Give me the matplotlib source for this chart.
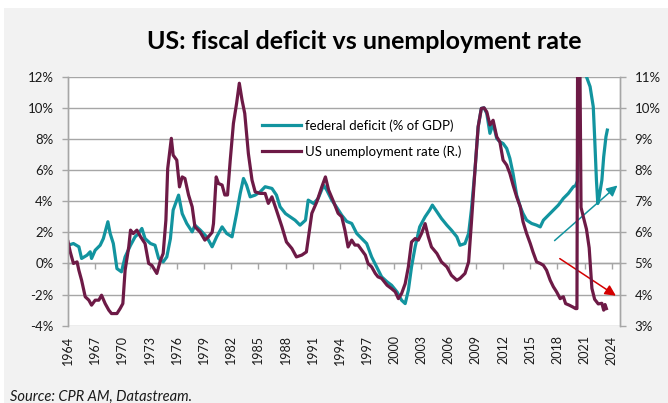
import matplotlib
matplotlib.use("Agg")
import matplotlib.pyplot as plt
from matplotlib.patches import Rectangle

plt.rcParams['font.family'] = ['Lato', 'DejaVu Sans']

# federal deficit, % of GDP (left axis)
deficit_years = [1964.0, 1964.6, 1965.2, 1965.5, 1966.1, 1966.45, 1966.6, 1967.0, 1967.55, 1967.9,
                 1968.4, 1968.65, 1969.0, 1969.4, 1969.9, 1970.3, 1970.9, 1971.4, 1971.8, 1972.15,
                 1972.5, 1973.1, 1973.6, 1974.0, 1974.5, 1974.9, 1975.3, 1975.6, 1976.2, 1976.6,
                 1977.1, 1977.7, 1978.0, 1978.6, 1979.3, 1979.9, 1980.4, 1981.0, 1981.5, 1982.1,
                 1982.6, 1983.0, 1983.36, 1983.7, 1984.1, 1984.65, 1985.2, 1985.75, 1986.5, 1987.0,
                 1987.4, 1988.0, 1988.5, 1989.05, 1989.6, 1990.2, 1990.5, 1991.1, 1991.6, 1992.2,
                 1992.55, 1993.1, 1993.65, 1994.2, 1994.75, 1995.3, 1995.85, 1996.4, 1996.95, 1997.5,
                 1998.05, 1998.6, 1999.2, 1999.7, 2000.3, 2000.8, 2001.2, 2001.55, 2001.9, 2002.3,
                 2002.8, 2003.4, 2003.9, 2004.2, 2004.7, 2005.2, 2005.8, 2006.3, 2006.9, 2007.25,
                 2007.8, 2008.2, 2008.5, 2008.9, 2009.25, 2009.6, 2009.9, 2010.2, 2010.55, 2010.9,
                 2011.3, 2011.65, 2012.0, 2012.4, 2012.75, 2013.1, 2013.5, 2013.9, 2014.2, 2014.6,
                 2015.15, 2015.7, 2016.1, 2016.45, 2017.0, 2017.55, 2018.1, 2018.65, 2019.2, 2019.75,
                 2020.0, 2020.2, 2020.35, 2020.8, 2021.0, 2021.2, 2021.6, 2021.95, 2022.1, 2022.3,
                 2022.45, 2022.6, 2022.9, 2023.1, 2023.35, 2023.5]
deficit = [1.17, 1.28, 1.07, 0.32, 0.53, 0.75, 0.32, 0.85, 1.17, 1.6,
           2.68, 1.93, 1.28, -0.33, -0.54, 0.42, 1.17, 1.71, 1.93, 2.25,
           1.6, 1.28, 1.17, 0.32, 0.1, 0.42, 1.6, 3.43, 4.39, 3.2,
           2.57, 2.03, 2.46, 2.14, 1.71, 1.07, 1.71, 2.35, 1.93, 1.71,
           3.2, 4.5, 5.46, 5.03, 4.28, 4.39, 4.6, 4.93, 4.82, 4.39,
           3.64, 3.2, 3.0, 2.78, 2.46, 2.78, 4.07, 3.85, 4.18, 5.03,
           4.71, 4.07, 3.6, 3.1, 2.7, 2.57, 1.93, 1.6, 1.28, 0.42,
           -0.22, -0.86, -1.18, -1.4, -1.83, -2.36, -2.58, -1.72, -0.22, 1.07,
           2.35, 3.0, 3.43, 3.75, 3.32, 2.89, 2.46, 2.14, 1.71, 1.17,
           1.28, 1.93, 3.43, 6.0, 8.78, 9.96, 10.0, 9.64, 8.36, 9.0,
           8.03, 7.82, 7.71, 7.39, 6.75, 5.78, 4.39, 3.64, 3.21, 2.78,
           2.57, 2.46, 2.35, 2.78, 3.1, 3.43, 3.75, 4.18, 4.5, 4.93,
           5.0, 5.3, 15.0, 16.0, 14.0, 12.0, 11.36, 10.07, 8.14, 5.35,
           3.85, 4.28, 5.35, 6.85, 8.14, 8.57]

# US unemployment rate, % (right axis)
unemp_years = [1964.0, 1964.25, 1964.6, 1965.0, 1965.2, 1965.5, 1965.9, 1966.3, 1966.6, 1967.0,
               1967.4, 1967.7, 1968.1, 1968.5, 1968.8, 1969.4, 1969.75, 1970.05, 1970.3, 1970.7,
               1970.9, 1971.2, 1971.6, 1972.0, 1972.5, 1972.9, 1973.25, 1973.8, 1974.2, 1974.5,
               1974.8, 1975.0, 1975.4, 1975.6, 1976.0, 1976.3, 1976.6, 1976.9, 1977.3, 1977.7,
               1978.0, 1978.6, 1979.1, 1979.5, 1979.9, 1980.05, 1980.35, 1980.6, 1981.0, 1981.3,
               1981.6, 1981.9, 1982.25, 1982.6, 1982.9, 1983.2, 1983.5, 1983.9, 1984.3, 1984.65,
               1985.2, 1985.75, 1986.1, 1986.5, 1987.0, 1987.6, 1988.1, 1988.7, 1989.2, 1989.8,
               1990.3, 1990.9, 1991.45, 1992.0, 1992.4, 1992.75, 1993.3, 1993.8, 1994.2, 1994.55,
               1994.9, 1995.3, 1995.65, 1996.0, 1996.4, 1996.8, 1997.1, 1997.5, 1997.9, 1998.2,
               1998.6, 1999.2, 1999.7, 2000.1, 2000.45, 2000.8, 2001.2, 2001.55, 2001.9, 2002.3,
               2002.65, 2003.0, 2003.4, 2003.75, 2004.1, 2004.7, 2005.2, 2005.8, 2006.3, 2006.9,
               2007.25, 2007.8, 2008.2, 2008.5, 2008.9, 2009.25, 2009.6, 2009.9, 2010.2, 2010.55,
               2010.9, 2011.3, 2011.65, 2012.0, 2012.4, 2012.75, 2013.1, 2013.5, 2013.9, 2014.2,
               2014.6, 2015.0, 2015.3, 2015.7, 2016.1, 2016.45, 2016.8, 2017.2, 2017.55, 2017.9,
               2018.3, 2018.65, 2018.9, 2019.3, 2019.7, 2020.0, 2020.15, 2020.25, 2020.45, 2020.6,
               2020.85, 2021.2, 2021.5, 2021.8, 2022.1, 2022.5, 2022.9, 2023.1, 2023.25, 2023.4]
unemp = [5.7, 5.37, 5.0, 5.05, 4.78, 4.46, 3.93, 3.82, 3.66, 3.82,
         3.82, 3.98, 3.71, 3.5, 3.39, 3.39, 3.55, 3.71, 4.78, 5.53,
         6.07, 5.96, 6.07, 5.86, 5.64, 5.0, 4.94, 4.68, 5.1, 5.32,
         6.39, 8.05, 9.02, 8.48, 8.32, 7.46, 7.78, 7.73, 7.2, 6.82,
         6.18, 6.0, 5.75, 5.86, 6.0, 6.28, 7.78, 7.57, 7.52, 7.2,
         7.2, 8.32, 9.5, 10.14, 10.79, 10.25, 9.82, 8.53, 7.68, 7.3,
         7.25, 7.25, 6.93, 7.14, 6.71, 6.18, 5.69, 5.48, 5.21, 5.27,
         5.37, 6.61, 6.98, 7.46, 7.78, 7.36, 6.98, 6.61, 6.5, 6.07,
         5.53, 5.75, 5.59, 5.59, 5.43, 5.27, 5.0, 4.89, 4.68, 4.57,
         4.52, 4.3, 4.19, 4.09, 3.87, 4.03, 4.35, 4.89, 5.69, 5.8,
         5.75, 5.96, 6.28, 5.86, 5.53, 5.32, 5.05, 4.89, 4.62, 4.46,
         4.52, 4.68, 5.05, 6.28, 8.0, 9.39, 9.98, 10.0, 9.87, 9.45,
         9.6, 9.07, 8.9, 8.32, 8.16, 7.89, 7.52, 7.14, 6.82, 6.34,
         5.96, 5.64, 5.37, 5.05, 5.0, 4.94, 4.78, 4.46, 4.25, 4.09,
         3.87, 3.93, 3.71, 3.66, 3.6, 3.55, 3.55, 14.7, 12.5, 6.8,
         6.5, 6.1, 5.5, 4.2, 3.85, 3.7, 3.72, 3.5, 3.68, 3.55]

year_ticks = list(range(1964, 2025, 3))
left_ticks = [-4, -2, 0, 2, 4, 6, 8, 10, 12]
right_ticks = [3, 4, 5, 6, 7, 8, 9, 10, 11]

TEAL = '#12949f'
MAROON = '#6d1a46'
GRID = '#a6a6a6'

fig = plt.figure(figsize=(6.68, 4.03), dpi=100)
fig.patch.set_facecolor('white')
fig.patches.append(Rectangle((4 / 668, 0), 1, 1 - 8 / 403, transform=fig.transFigure,
                             facecolor='#f2f2f2', edgecolor='none', zorder=-10))

ax = fig.add_axes([68 / 668, 1 - 325.7 / 403, (620 - 68) / 668, (325.7 - 76.7) / 403])
ax.set_facecolor('white')
ax2 = ax.twinx()
ax2.patch.set_visible(False)

ax.plot(deficit_years, deficit, color=TEAL, lw=2.3, label='federal deficit (% of GDP)',
        solid_joinstyle='round')
ax2.plot(unemp_years, unemp, color=MAROON, lw=2.3, label='US unemployment rate (R.)',
         solid_joinstyle='round')

ax.set_xlim(1964, 2024.9)
ax.set_ylim(-4, 12)
ax2.set_ylim(3, 11)
ax.set_yticks(left_ticks)
ax.set_yticklabels([f'{t}%' for t in left_ticks])
ax2.set_yticks(right_ticks)
ax2.set_yticklabels([f'{t}%' for t in right_ticks])
ax.set_xticks(year_ticks)
ax.set_xticklabels([str(y) for y in year_ticks], rotation=90)

ax.grid(axis='y', color=GRID, lw=1)
ax.set_axisbelow(True)
for a in (ax, ax2):
    for side in ('top', 'bottom'):
        a.spines[side].set_visible(False)
    for side in ('left', 'right'):
        a.spines[side].set_color(GRID)
        a.spines[side].set_linewidth(1)

ax.tick_params(axis='y', length=4.5, width=1, color=GRID, pad=6, labelsize=9.5, labelcolor='#1a1a1a')
ax2.tick_params(axis='y', length=4.5, width=1, color=GRID, pad=6, labelsize=9.5, labelcolor='#1a1a1a')
ax.tick_params(axis='x', length=0, pad=7, labelsize=9, labelcolor='#1a1a1a')

# tick marks sit on the 0% line (Excel style)
zero_axis = ax.secondary_xaxis(0.25)
zero_axis.set_xticks(year_ticks)
zero_axis.set_xticklabels([])
zero_axis.tick_params(axis='x', direction='out', length=4.5, width=1, color=GRID)
zero_axis.spines['bottom'].set_color(GRID)
zero_axis.spines['bottom'].set_linewidth(1)

# arrows
ax.annotate('', xy=(2024.85, 5.13), xytext=(2017.45, 1.35),
            arrowprops=dict(arrowstyle='-|>', color=TEAL, lw=1.1, mutation_scale=16),
            annotation_clip=False)
ax.annotate('', xy=(2024.7, -2.17), xytext=(2018.0, 0.41),
            arrowprops=dict(arrowstyle='-|>', color='#d40000', lw=1.1, mutation_scale=16),
            annotation_clip=False)

h1, l1 = ax.get_legend_handles_labels()
h2, l2 = ax2.get_legend_handles_labels()
ax2.legend(h1 + h2, l1 + l2, loc='upper left', bbox_to_anchor=(0.352, 0.83),
           frameon=False, fontsize=9.5, handlelength=2.9, handletextpad=0.3,
           labelspacing=1.05, borderpad=0, borderaxespad=0)

fig.text(0.546, 0.896, 'US: fiscal deficit vs unemployment rate', ha='center', va='center',
         fontsize=18, fontweight='bold', color='black')
fig.text(10 / 668, 1 - 397 / 403, 'Source: CPR AM, Datastream.', ha='left', va='center',
         fontsize=10.5, style='italic', color='#1a1a1a')

fig.savefig('out.png', dpi=100)
